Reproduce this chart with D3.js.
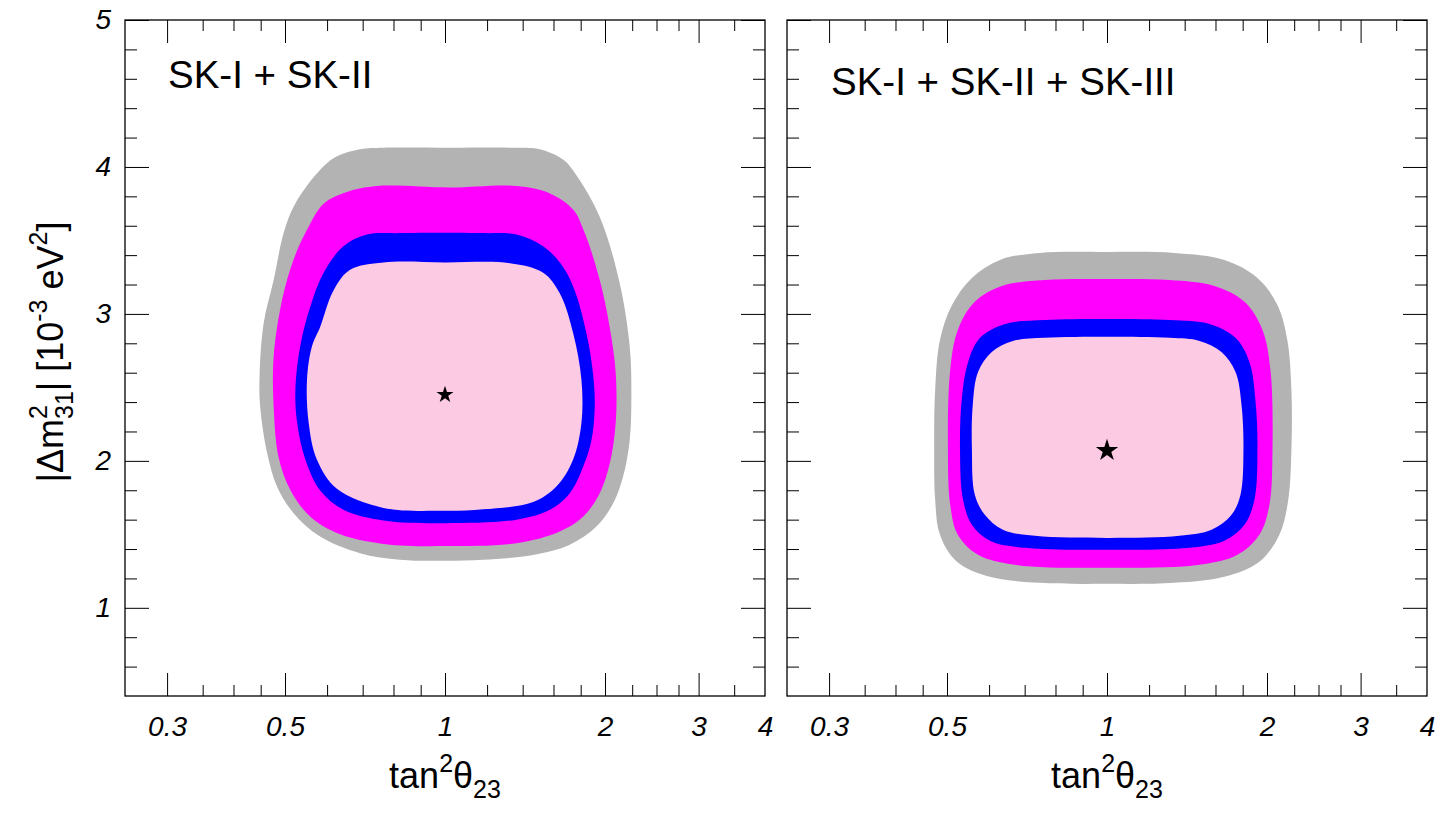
<!DOCTYPE html>
<html>
<head>
<meta charset="utf-8">
<script src="https://cdn.jsdelivr.net/npm/d3@7"></script>
<style>
  html, body { margin: 0; padding: 0; background: #fff; }
  svg { display: block; }
  text { font-family: "Liberation Sans", Arial, Helvetica, sans-serif; }
</style>
</head>
<body>
<svg id="chart" width="1443" height="813"></svg>
<script>
// ---- axis ranges and ticks ----
const xDomain = [0.25, 4];
const yDomain = [0.4, 5];
const xMajorTicks = [0.3, 0.5, 1, 2, 3];
const xLabelTicks = [0.3, 0.5, 1, 2, 3, 4];
const xMinorTicks = [0.35, 0.4, 0.45, 0.6, 0.7, 0.8, 0.9, 1.2, 1.4, 1.6, 1.8, 2.25, 2.5, 2.75, 3.5];
const yMajorTicks = [1, 2, 3, 4, 5];
const yMinorTicks = [0.6, 0.8, 1.2, 1.4, 1.6, 1.8, 2.2, 2.4, 2.6, 2.8, 3.2, 3.4, 3.6, 3.8, 4.2, 4.4, 4.6, 4.8];

// ---- allowed regions, [tan^2(theta23), |dm^2_31| (1e-3 eV^2)] ----
// SK-I + SK-II
const leftGray = [
  [0.566,3.93],[0.617,4.06],[0.692,4.12],[0.766,4.13],[1.02,4.13],[1.363,4.13],[1.508,4.12],
  [1.668,4.05],[1.754,3.96],[1.955,3.66],[2.131,3.21],[2.226,2.78],[2.242,2.46],[2.226,2.14],
  [2.162,1.89],[2.071,1.71],[1.927,1.553],[1.717,1.43],[1.465,1.36],[1.18,1.327],[1.0,1.32],
  [0.823,1.327],[0.692,1.372],[0.582,1.485],[0.519,1.644],[0.483,1.825],[0.463,2.05],
  [0.449,2.37],[0.448,2.60],[0.456,2.94],[0.476,3.23],[0.497,3.55],[0.519,3.73]
];
const leftMagenta = [
  [0.546,3.55],[0.591,3.75],[0.654,3.83],[0.744,3.87],[1.02,3.86],[1.363,3.87],[1.575,3.82],
  [1.742,3.71],[1.832,3.55],[1.955,3.23],[2.041,2.91],[2.095,2.60],[2.095,2.26],[2.041,1.98],
  [1.955,1.78],[1.819,1.62],[1.644,1.52],[1.363,1.44],[1.0,1.42],[0.766,1.435],[0.626,1.51],
  [0.558,1.62],[0.512,1.80],[0.486,2.03],[0.476,2.37],[0.476,2.71],[0.494,3.10],[0.519,3.37]
];
const leftBlue = [
  [0.591,3.28],[0.644,3.46],[0.713,3.54],[0.823,3.55],[1.18,3.55],[1.363,3.54],[1.53,3.46],
  [1.668,3.32],[1.754,3.16],[1.845,2.87],[1.898,2.60],[1.913,2.37],[1.886,2.14],[1.819,1.96],
  [1.717,1.78],[1.575,1.667],[1.363,1.60],[1.0,1.576],[0.766,1.594],[0.644,1.667],[0.582,1.80],
  [0.546,2.01],[0.527,2.26],[0.523,2.48],[0.534,2.78],[0.558,3.05]
];
const leftPink = [
  [0.582,2.91],[0.617,3.16],[0.663,3.30],[0.766,3.35],[1.0,3.35],[1.324,3.345],[1.53,3.28],
  [1.644,3.14],[1.742,2.87],[1.806,2.55],[1.806,2.26],[1.742,2.01],[1.62,1.825],[1.465,1.72],
  [1.18,1.67],[1.0,1.66],[0.766,1.68],[0.626,1.81],[0.574,2.01],[0.554,2.26],[0.550,2.55],
  [0.562,2.78]
];
const leftBest = [1.0, 2.45];

// SK-I + SK-II + SK-III
const rightGray = [
  [1.0,3.422],[1.34,3.415],[1.663,3.367],[1.919,3.245],[2.092,3.061],[2.184,2.823],[2.223,2.483],
  [2.223,2.075],[2.193,1.735],[2.11,1.497],[1.935,1.313],[1.663,1.211],[1.34,1.17],[1.0,1.163],
  [0.747,1.17],[0.602,1.211],[0.522,1.313],[0.485,1.497],[0.475,1.735],[0.473,2.075],
  [0.475,2.483],[0.485,2.823],[0.511,3.061],[0.557,3.245],[0.629,3.367],[0.747,3.415]
];
const rightMagenta = [
  [1.0,3.238],[1.311,3.231],[1.593,3.19],[1.814,3.082],[1.961,2.891],[2.03,2.619],[2.048,2.075],
  [2.021,1.701],[1.935,1.497],[1.76,1.361],[1.493,1.293],[1.0,1.272],[0.671,1.293],[0.572,1.361],
  [0.524,1.497],[0.507,1.701],[0.502,2.075],[0.507,2.619],[0.524,2.891],[0.564,3.082],
  [0.634,3.19],[0.764,3.231]
];
const rightBlue = [
  [1.0,2.966],[1.311,2.959],[1.559,2.932],[1.745,2.837],[1.853,2.673],[1.902,2.415],[1.919,2.075],
  [1.894,1.735],[1.814,1.565],[1.663,1.456],[1.43,1.408],[1.0,1.395],[0.70,1.408],[0.602,1.456],
  [0.557,1.565],[0.536,1.735],[0.529,2.075],[0.533,2.415],[0.548,2.673],[0.577,2.837],
  [0.643,2.932],[0.764,2.959]
];
const rightPink = [
  [1.0,2.844],[1.311,2.837],[1.493,2.816],[1.642,2.741],[1.745,2.605],[1.791,2.381],[1.806,2.075],
  [1.783,1.769],[1.715,1.633],[1.573,1.531],[1.369,1.49],[1.0,1.476],[0.732,1.49],[0.637,1.531],
  [0.589,1.633],[0.564,1.769],[0.557,2.075],[0.559,2.381],[0.572,2.605],[0.607,2.741],
  [0.665,2.816],[0.764,2.837]
];
const rightBest = [1.0, 2.07];

const panelTitles = ["SK-I + SK-II", "SK-I + SK-II + SK-III"];

const regionColors = ["#b3b3b3", "#ff00ff", "#0000ff", "#fdcae4"];

const panels = [
  { left: 125, title: panelTitles[0], regions: [leftGray, leftMagenta, leftBlue, leftPink],
    best: leftBest, starSize: 90, titleX: 168, titleY: 88, yLabels: true },
  { left: 787, title: panelTitles[1], regions: [rightGray, rightMagenta, rightBlue, rightPink],
    best: rightBest, starSize: 155, titleX: 831, titleY: 95, yLabels: false }
];

const plotTop = 20, plotBottom = 696, plotWidth = 640;
const svg = d3.select("#chart");

panels.forEach(p => {
  const x = d3.scaleLog().domain(xDomain).range([p.left, p.left + plotWidth]);
  const y = d3.scaleLinear().domain(yDomain).range([plotBottom, plotTop]);
  const g = svg.append("g");

  const line = d3.line()
    .x(d => x(d[0])).y(d => y(d[1]))
    .curve(d3.curveCatmullRomClosed.alpha(0.5));

  p.regions.forEach((r, i) => {
    g.append("path").attr("d", line(r)).attr("fill", regionColors[i]).attr("stroke", "none");
  });

  g.append("path")
    .attr("d", d3.symbol(d3.symbolStar, p.starSize)())
    .attr("transform", `translate(${x(p.best[0])},${y(p.best[1])})`)
    .attr("fill", "#000");

  // inward ticks on all four sides
  const tickStyle = sel => {
    sel.select(".domain").remove();
    sel.selectAll(".tick line").attr("stroke", "#000").attr("stroke-width", 1);
  };
  const labelStyle = sel => {
    sel.selectAll("text").attr("font-size", 28).attr("font-style", "italic")
      .attr("font-family", "Liberation Sans, Arial, sans-serif").attr("fill", "#000");
  };

  g.append("g").attr("transform", `translate(0,${plotBottom})`)
    .call(d3.axisBottom(x).tickValues(xMinorTicks).tickSize(-11).tickFormat(""))
    .call(tickStyle);
  g.append("g").attr("transform", `translate(0,${plotBottom})`)
    .call(d3.axisBottom(x).tickValues(xMajorTicks).tickSize(-23).tickFormat(""))
    .call(tickStyle);
  g.append("g").attr("transform", `translate(0,${plotBottom})`)
    .call(d3.axisBottom(x).tickValues(xLabelTicks).tickSize(0).tickPadding(20).tickFormat(d3.format("~g")))
    .call(tickStyle).call(labelStyle);

  g.append("g").attr("transform", `translate(0,${plotTop})`)
    .call(d3.axisTop(x).tickValues(xMinorTicks).tickSize(-11).tickFormat(""))
    .call(tickStyle);
  g.append("g").attr("transform", `translate(0,${plotTop})`)
    .call(d3.axisTop(x).tickValues(xMajorTicks).tickSize(-23).tickFormat(""))
    .call(tickStyle);

  g.append("g").attr("transform", `translate(${p.left},0)`)
    .call(d3.axisLeft(y).tickValues(yMinorTicks).tickSize(-12).tickFormat(""))
    .call(tickStyle);
  g.append("g").attr("transform", `translate(${p.left},0)`)
    .call(d3.axisLeft(y).tickValues(yMajorTicks).tickSize(-24).tickPadding(14)
      .tickFormat(p.yLabels ? d3.format("~g") : ""))
    .call(tickStyle).call(labelStyle);

  g.append("g").attr("transform", `translate(${p.left + plotWidth},0)`)
    .call(d3.axisRight(y).tickValues(yMinorTicks).tickSize(-12).tickFormat(""))
    .call(tickStyle);
  g.append("g").attr("transform", `translate(${p.left + plotWidth},0)`)
    .call(d3.axisRight(y).tickValues(yMajorTicks).tickSize(-24).tickFormat(""))
    .call(tickStyle);

  // frame
  g.append("rect").attr("x", p.left).attr("y", plotTop).attr("width", plotWidth)
    .attr("height", plotBottom - plotTop)
    .attr("fill", "none").attr("stroke", "#000").attr("stroke-width", 1.3);

  // panel title
  g.append("text").attr("x", p.titleX).attr("y", p.titleY)
    .attr("font-size", 38.5).attr("fill", "#000").text(p.title);

  // x axis title: tan^2 theta_23
  const xt = g.append("text").attr("x", x(1)).attr("y", 788)
    .attr("text-anchor", "middle").attr("font-size", 36).attr("fill", "#000");
  xt.append("tspan").text("tan");
  xt.append("tspan").attr("font-size", 25).attr("dy", -16).text("2");
  xt.append("tspan").attr("dy", 16).text("θ");
  xt.append("tspan").attr("font-size", 25).attr("dy", 10).text("23");
});

// y axis title: |Δm^2_31| [10^-3 eV^2]
const yt = svg.append("text")
  .attr("transform", "translate(63,352) rotate(-90)")
  .attr("text-anchor", "middle").attr("font-size", 36).attr("fill", "#000");
yt.append("tspan").text("|Δm");
yt.append("tspan").attr("font-size", 25).attr("dy", -16).text("2");
yt.append("tspan").attr("font-size", 25).attr("dx", -13.9).attr("dy", 26).text("31");
yt.append("tspan").attr("dy", -10).text("| [10");
yt.append("tspan").attr("font-size", 25).attr("dy", -16).text("-3");
yt.append("tspan").attr("dy", 16).text(" eV");
yt.append("tspan").attr("font-size", 25).attr("dy", -16).text("2");
yt.append("tspan").attr("dy", 16).text("]");
</script>
</body>
</html>
